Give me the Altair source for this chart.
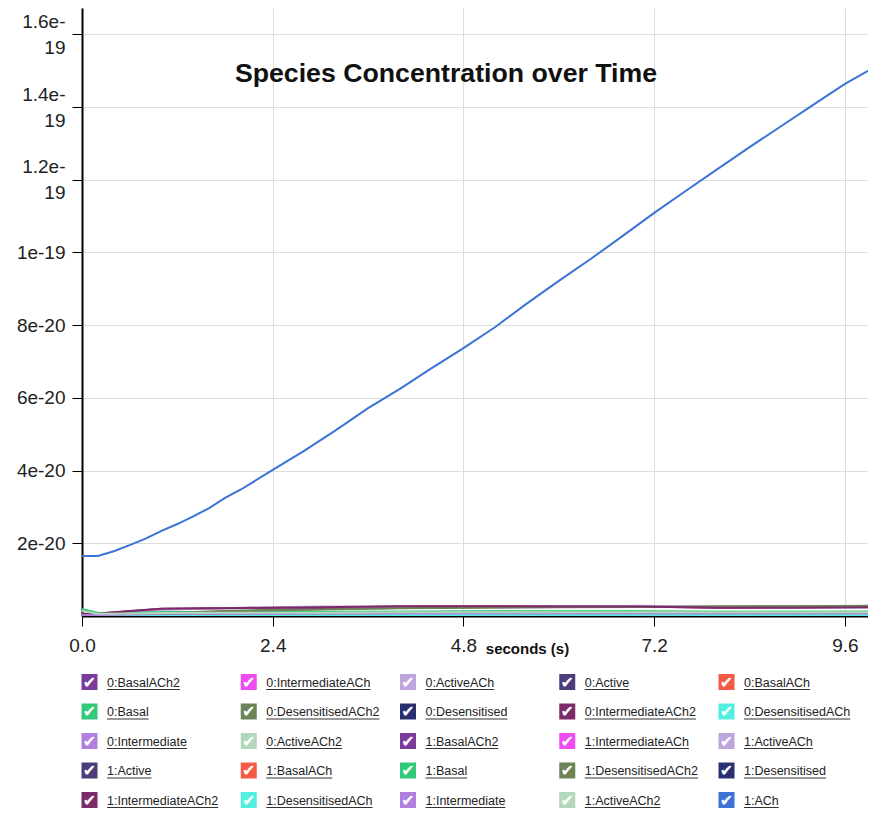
import altair as alt
import pandas as pd

TITLE = "Species Concentration over Time"
X_TITLE = "seconds (s)"
X_TICKS = [0.0, 2.4, 4.8, 7.2, 9.6]
Y_TICKS = [2e-20, 4e-20, 6e-20, 8e-20, 1e-19, 1.2e-19, 1.4e-19, 1.6e-19]
X_MAX = 9.89
Y_MAX = 1.6726e-19

NAMES = [
    "0:BasalACh2", "0:IntermediateACh", "0:ActiveACh", "0:Active", "0:BasalACh",
    "0:Basal", "0:DesensitisedACh2", "0:Desensitised", "0:IntermediateACh2", "0:DesensitisedACh",
    "0:Intermediate", "0:ActiveACh2", "1:BasalACh2", "1:IntermediateACh", "1:ActiveACh",
    "1:Active", "1:BasalACh", "1:Basal", "1:DesensitisedACh2", "1:Desensitised",
    "1:IntermediateACh2", "1:DesensitisedACh", "1:Intermediate", "1:ActiveACh2", "1:ACh",
]
COLORS = [
    "#7b3b9b", "#ee4cf0", "#bfa5dd", "#4b3d7a", "#f55a45",
    "#33c97a", "#6d8358", "#283072", "#7c2a68", "#52efe0",
    "#b17fdd", "#b3d7ba", "#7b3b9b", "#ee4cf0", "#bfa5dd",
    "#4b3d7a", "#f55a45", "#33c97a", "#6d8358", "#283072",
    "#7c2a68", "#52efe0", "#b17fdd", "#b3d7ba", "#3b74d6",
]

# 1:ACh, in units of 1e-20
T_ACH = [0.0, 0.2, 0.4, 0.6, 0.8, 1.0, 1.2, 1.4, 1.6, 1.8, 2.0, 2.4, 2.8, 3.2, 3.6, 4.0,
         4.4, 4.8, 5.2, 5.6, 6.0, 6.4, 6.8, 7.2, 7.6, 8.0, 8.4, 8.8, 9.2, 9.6, 10.0]
ACH_1 = [1.65, 1.65, 1.78, 1.95, 2.13, 2.34, 2.53, 2.74, 2.97, 3.25, 3.48, 4.02, 4.55, 5.12,
         5.72, 6.25, 6.82, 7.37, 7.95, 8.60, 9.22, 9.82, 10.45, 11.09, 11.70, 12.30, 12.90,
         13.48, 14.06, 14.64, 15.13]

# the other species, in units of 1e-21
T_LOW = [0.0, 0.2, 0.6, 1.0, 2.0, 3.0, 4.0, 5.0, 6.0, 7.0, 8.0, 9.0, 10.0]
BASALACH2_0 = [0.2, 0.2, 0.3, 0.4, 0.4, 0.5, 0.5, 0.5, 0.5, 0.5, 0.5, 0.5, 0.5]
INTERMEDIATEACH_0 = [0.1, 0.1, 0.3, 0.4, 0.5, 0.5, 0.5, 0.6, 0.6, 0.6, 0.6, 0.6, 0.6]
ACTIVEACH_0 = [0.3, 0.4, 1.1, 1.8, 2.3, 2.6, 2.5, 2.7, 2.5, 2.8, 2.5, 2.4, 2.3]
ACTIVE_0 = [0.0, 0.0, 0.1, 0.1, 0.1, 0.1, 0.1, 0.1, 0.1, 0.1, 0.1, 0.1, 0.1]
BASALACH_0 = [0.0, 0.0, 0.0, 0.1, 0.1, 0.1, 0.1, 0.1, 0.1, 0.1, 0.1, 0.1, 0.1]
BASAL_0 = [1.9, 0.8, 0.9, 1.0, 1.1, 1.2, 1.2, 1.3, 1.3, 1.3, 1.2, 1.2, 1.2]
DESENSITISEDACH2_0 = [0.0, 0.1, 0.4, 0.8, 1.5, 1.9, 2.2, 2.4, 2.5, 2.5, 2.6, 2.7, 2.8]
DESENSITISED_0 = [0.0, 0.0, 0.1, 0.1, 0.1, 0.1, 0.1, 0.1, 0.1, 0.1, 0.1, 0.1, 0.1]
INTERMEDIATEACH2_0 = [0.6, 0.7, 1.4, 2.0, 2.2, 2.3, 2.6, 2.7, 2.7, 2.6, 2.3, 2.4, 2.5]
DESENSITISEDACH_0 = [0.0, 0.0, 0.1, 0.2, 0.2, 0.3, 0.3, 0.3, 0.3, 0.3, 0.3, 0.3, 0.3]
INTERMEDIATE_0 = [0.2, 0.3, 0.5, 0.6, 0.7, 0.7, 0.7, 0.7, 0.7, 0.7, 0.7, 0.7, 0.7]
ACTIVEACH2_0 = [1.5, 0.6, 0.7, 0.8, 0.9, 1.0, 1.0, 1.0, 1.0, 1.0, 1.0, 1.0, 1.0]
BASALACH2_1 = [0.2, 0.2, 0.3, 0.3, 0.4, 0.4, 0.5, 0.5, 0.5, 0.5, 0.5, 0.5, 0.5]
INTERMEDIATEACH_1 = [0.1, 0.1, 0.2, 0.3, 0.4, 0.5, 0.5, 0.5, 0.5, 0.5, 0.5, 0.5, 0.5]
ACTIVEACH_1 = [0.3, 0.3, 1.0, 1.7, 2.2, 2.5, 2.6, 2.6, 2.6, 2.7, 2.6, 2.5, 2.4]
ACTIVE_1 = [0.0, 0.0, 0.1, 0.1, 0.1, 0.1, 0.1, 0.1, 0.1, 0.1, 0.1, 0.1, 0.1]
BASALACH_1 = [0.0, 0.0, 0.0, 0.1, 0.1, 0.1, 0.1, 0.1, 0.1, 0.1, 0.1, 0.1, 0.1]
BASAL_1 = [1.8, 0.8, 0.9, 1.0, 1.1, 1.1, 1.2, 1.2, 1.2, 1.2, 1.2, 1.2, 1.2]
DESENSITISEDACH2_1 = [0.0, 0.1, 0.3, 0.7, 1.4, 1.8, 2.1, 2.3, 2.4, 2.5, 2.6, 2.7, 2.7]
DESENSITISED_1 = [0.0, 0.0, 0.1, 0.1, 0.1, 0.1, 0.1, 0.1, 0.1, 0.1, 0.1, 0.1, 0.1]
INTERMEDIATEACH2_1 = [0.5, 0.6, 1.3, 2.0, 2.2, 2.4, 2.7, 2.7, 2.6, 2.6, 2.3, 2.3, 2.4]
DESENSITISEDACH_1 = [0.0, 0.0, 0.1, 0.1, 0.2, 0.2, 0.3, 0.3, 0.3, 0.3, 0.3, 0.3, 0.3]
INTERMEDIATE_1 = [0.2, 0.3, 0.4, 0.6, 0.6, 0.7, 0.7, 0.7, 0.7, 0.7, 0.7, 0.7, 0.7]
ACTIVEACH2_1 = [1.4, 0.6, 0.7, 0.8, 0.9, 0.9, 1.0, 1.0, 1.0, 1.0, 1.0, 1.0, 1.0]

LOW_SERIES = [
    BASALACH2_0, INTERMEDIATEACH_0, ACTIVEACH_0, ACTIVE_0, BASALACH_0,
    BASAL_0, DESENSITISEDACH2_0, DESENSITISED_0, INTERMEDIATEACH2_0, DESENSITISEDACH_0,
    INTERMEDIATE_0, ACTIVEACH2_0, BASALACH2_1, INTERMEDIATEACH_1, ACTIVEACH_1,
    ACTIVE_1, BASALACH_1, BASAL_1, DESENSITISEDACH2_1, DESENSITISED_1,
    INTERMEDIATEACH2_1, DESENSITISEDACH_1, INTERMEDIATE_1, ACTIVEACH2_1,
]

# ---------- data tables ----------
low_rows = []
for name, vals in zip(NAMES[:-1], LOW_SERIES):
    for i, (t, v) in enumerate(zip(T_LOW, vals)):
        low_rows.append({"series": name, "t": t, "v": v * 1e-21, "i": i})
low_df = pd.DataFrame(low_rows)
ach_df = pd.DataFrame({"series": NAMES[-1], "t": T_ACH, "v": [v * 1e-20 for v in ACH_1]})

# Arial / Liberation Sans advance widths (1/1000 em) for underline lengths
CW = {"0": 556, "1": 556, "2": 556, ":": 278, "A": 667, "B": 667, "C": 722, "D": 722,
      "I": 278, "a": 556, "c": 500, "d": 556, "e": 556, "h": 556, "i": 222, "l": 222,
      "m": 833, "n": 556, "r": 333, "s": 500, "t": 278, "v": 500}
LEG_FONT = 12.5
PLOT_W = 786
COL_PX = 159.25
leg_rows = []
for k, name in enumerate(NAMES):
    col, row = k % 5, k // 5
    wpx = sum(CW.get(c, 556) for c in name) * LEG_FONT / 1000.0
    leg_rows.append({"name": name, "col": col, "row": row, "col_end": col + wpx / COL_PX})
leg_df = pd.DataFrame(leg_rows)

# ---------- main chart ----------
color_scale = alt.Scale(domain=NAMES, range=COLORS)
x_enc = alt.X(
    "t:Q",
    scale=alt.Scale(domain=[0, X_MAX], nice=False, zero=False),
    axis=alt.Axis(
        values=X_TICKS, format=".1f", title=X_TITLE, grid=True, gridColor="#dddddd",
        domainColor="#000", domainWidth=2, tickColor="#000", tickSize=10, tickWidth=1,
        labelFont="Liberation Sans", labelFontSize=19, labelColor="#222", labelPadding=10,
        labelFlush=False, labelOverlap=False,
        titleFont="Liberation Sans", titleFontSize=15, titleFontWeight="bold",
        titleColor="#111", titleX=445, titleY=32, titleBaseline="middle", titleAlign="center",
    ),
)
y_label_expr = (
    "length(datum.value + '') > 5 ? "
    "[slice(datum.value + '', 0, 5), slice(datum.value + '', 5)] : datum.value + ''"
)
y_enc = alt.Y(
    "v:Q",
    scale=alt.Scale(domain=[0, Y_MAX], nice=False),
    axis=alt.Axis(
        values=Y_TICKS, labelExpr=y_label_expr, title=None, grid=True, gridColor="#dddddd",
        domainColor="#000", domainWidth=2, tickColor="#000", tickSize=10, tickWidth=1,
        labelFont="Liberation Sans", labelFontSize=19, labelColor="#222", labelPadding=7,
        labelLineHeight=26, labelOverlap=False, labelFlush=False,
        labelOffset={"condition": {"test": "length(datum.value + '') > 5", "value": -13}, "value": 0},
        minExtent=74, maxExtent=74,
    ),
)

low_lines = alt.Chart(low_df).mark_line(strokeWidth=2, clip=True).encode(
    x=x_enc, y=y_enc,
    color=alt.Color("series:N", scale=color_scale, legend=None),
    order="i:Q",
)
ach_line = alt.Chart(ach_df).mark_line(strokeWidth=2, clip=True).encode(
    x="t:Q", y="v:Q",
    color=alt.Color("series:N", scale=color_scale, legend=None),
)
title_text = alt.Chart(pd.DataFrame({"title": [TITLE]})).mark_text(
    font="Liberation Sans", fontSize=26.7, fontWeight="bold", color="#111",
    align="center", baseline="middle",
).encode(x=alt.value(364), y=alt.value(66), text="title:N")

main = alt.layer(low_lines, ach_line, title_text).properties(width=PLOT_W, height=608)

# ---------- checkbox legend ----------
ROW_STEP = 29.5
LEG_H = 141
D0 = -15.0 / ROW_STEP
D1 = D0 + LEG_H / ROW_STEP
lx = alt.X("col:Q", scale=alt.Scale(domain=[0, PLOT_W / COL_PX], nice=False, zero=False), axis=None)
ly = alt.Y("row:Q", scale=alt.Scale(domain=[D0, D1], nice=False, zero=False, reverse=True), axis=None)
leg = alt.Chart(leg_df)
boxes = leg.mark_square(size=256, opacity=1, xOffset=7.5).encode(
    x=lx, y=ly, color=alt.Color("name:N", scale=color_scale, legend=None)
)
checks = leg.mark_text(text="✔", color="white", fontSize=16, font="DejaVu Sans",
                       xOffset=7.5, yOffset=0.5).encode(x=lx, y=ly)
labels = leg.mark_text(align="left", baseline="middle", xOffset=25, yOffset=0.5,
                       font="Liberation Sans", fontSize=LEG_FONT, color="#222").encode(
    x=lx, y=ly, text="name:N")
unders = leg.mark_rule(xOffset=25, x2Offset=25, yOffset=7.5, strokeWidth=1, color="#333").encode(
    x=lx, x2="col_end:Q", y=ly)
legend = alt.layer(boxes, checks, labels, unders).properties(width=PLOT_W, height=LEG_H)

chart = alt.vconcat(main, legend, spacing=11).properties(padding=0).configure_view(stroke=None)

chart.save("out.html", embed_options={"renderer": "svg", "actions": False})
